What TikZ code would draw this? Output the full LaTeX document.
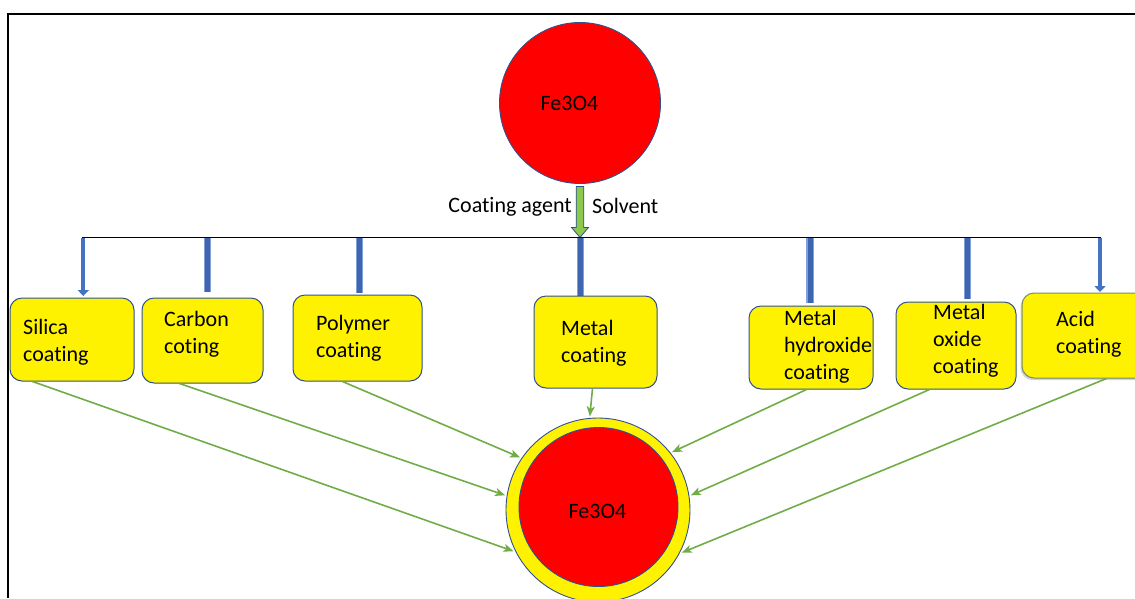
\documentclass[tikz,border=0pt]{standalone}
\usepackage{fontspec}
\setmainfont{Carlito}[Ligatures=NoCommon]
\usetikzlibrary{arrows.meta,calc,shadows}
\definecolor{boxline}{RGB}{47,82,143}
\definecolor{acidline}{RGB}{120,140,95}
\definecolor{coatgreen}{RGB}{112,173,71}
\definecolor{feedgreen}{RGB}{140,200,75}
\definecolor{barblue}{RGB}{62,102,176}
\definecolor{barglow}{RGB}{130,160,215}
\definecolor{thinblue}{RGB}{68,114,196}
\begin{document}
\begin{tikzpicture}[x=1pt,y=-1pt,
  coatbox/.style={draw=boxline, line width=1pt, fill=yellow, rounded corners=12pt, inner sep=0pt},
  txt/.style={font=\fontsize{22}{27}\selectfont, inner sep=0pt, align=left},
  thinbar/.style={draw=thinblue, line width=4pt, -{Triangle[length=6pt,width=11pt]}},
  glowbar/.style={draw=barglow, line width=7.5pt},
  thickbar/.style={draw=barblue, line width=5pt},
  feed/.style={draw=coatgreen, line width=1.6pt, -{Stealth[length=10pt,width=8pt,inset=2.5pt]}},
  ball/.style={circle, draw=boxline, line width=0.9pt, inner sep=0pt}
]
\useasboundingbox (0,0) rectangle (1135,598);
\clip (0,0) rectangle (1135,598);

% outer frame
\draw[line width=2pt] (7.8,598) -- (7.8,13.7) -- (1135,13.7);

% bare particle
\node[ball, fill=red, minimum size=161pt] (fe) at (580,103) {};
\node[txt] (feT) at (569.5,103) {Fe3O4};

% feed arrow with the reagents
\draw[fill=feedgreen, draw=boxline, line width=0.8pt]
  ($(fe.south)+(-3.8,2.5)$) -- ++(7.6,0) -- ++(0,41) -- ++(4.7,0)
  -- ++(-8.5,10) -- ++(-8.5,-10) -- ++(4.7,0) -- cycle;
\node[txt, anchor=base east] (agent) at (572,212) {Coating agent};
\node[txt, anchor=base west] (solvent) at (592,213) {Solvent};

% distribution bus
\coordinate (busL) at (82,237.5);
\coordinate (busR) at (1101,237.5);
\draw[line width=1.5pt] (busL) -- (busR);

% branches from the bus
\coordinate (b1) at (83.3,296);
\coordinate (b2) at (207.5,292);
\coordinate (b3) at (359.5,293);
\coordinate (b4) at (580.5,297);
\coordinate (b5) at (810,303);
\coordinate (b6) at (967.5,299);
\coordinate (b7) at (1100,292);
\draw[thinbar] (b1 |- busL) -- (b1);
\draw[thinbar] (b7 |- busL) -- (b7);
\foreach \b in {b2,b3,b4,b5,b6}{
  \draw[glowbar] (\b |- busL) -- (\b);
  \draw[thickbar] (\b |- busL) -- (\b);
}

% coating boxes
\node[coatbox, minimum width=124pt, minimum height=83pt] (silica) at (72,339.5) {};
\node[coatbox, minimum width=121pt, minimum height=85pt] (carbon) at (202.5,340.5) {};
\node[coatbox, minimum width=129pt, minimum height=86pt] (polymer) at (357.5,338) {};
\node[coatbox, minimum width=123pt, minimum height=92pt] (metal) at (595.5,342) {};
\node[coatbox, minimum width=124pt, minimum height=83pt] (mhyd) at (811,347.5) {};
\node[coatbox, minimum width=120pt, minimum height=87pt] (moxi) at (956,345.5) {};
\node[coatbox, draw=acidline, drop shadow={shadow xshift=-1.5pt, shadow yshift=-2pt, opacity=0.35},
      minimum width=128pt, minimum height=85pt] (acid) at (1086,335.5) {};

% labels, anchored at the baseline of their last line
\node[txt, anchor=base west] (silicaT) at (23,361) {Silica\\coating};
\node[txt, anchor=base west] (carbonT) at (164,353) {Carbon\\coting};
\node[txt, anchor=base west] (polymerT) at (316,357) {Polymer\\coating};
\node[txt, anchor=base west] (metalT) at (561,362) {Metal\\coating};
\node[txt, anchor=base west] (mhydT) at (784,379) {Metal\\hydroxide\\coating};
\node[txt, anchor=base west] (moxiT) at (933,373) {Metal\\oxide\\coating};
\node[txt, anchor=base west] (acidT) at (1056,353) {Acid\\coating};

% coated particle
\node[ball, fill=yellow, minimum size=184pt, outer sep=2pt] (shell) at (598,510) {};
\node[ball, fill=red, minimum size=159pt] (core) at (598.5,507) {};
\node[txt, anchor=base] (coreT) at (597.5,518) {Fe3O4};

% coatings onto the particle
\draw[feed] ($(silica.south west)+(23,0)$) -- (shell.206);
\draw[feed] ($(carbon.south west)+(38,0)$) -- (shell.171);
\draw[feed] ($(polymer.south west)+(50,0)$) -- (shell.146);
\draw[feed] ($(metal.south west)+(59,0)$) -- (shell.95);
\draw[feed] ($(mhyd.south west)+(58,0)$) -- (shell.38);
\draw[feed] ($(moxi.south west)+(34,0)$) -- (shell.9);
\draw[feed] ($(acid.south west)+(85,0)$) -- (shell.333);
\end{tikzpicture}
\end{document}
